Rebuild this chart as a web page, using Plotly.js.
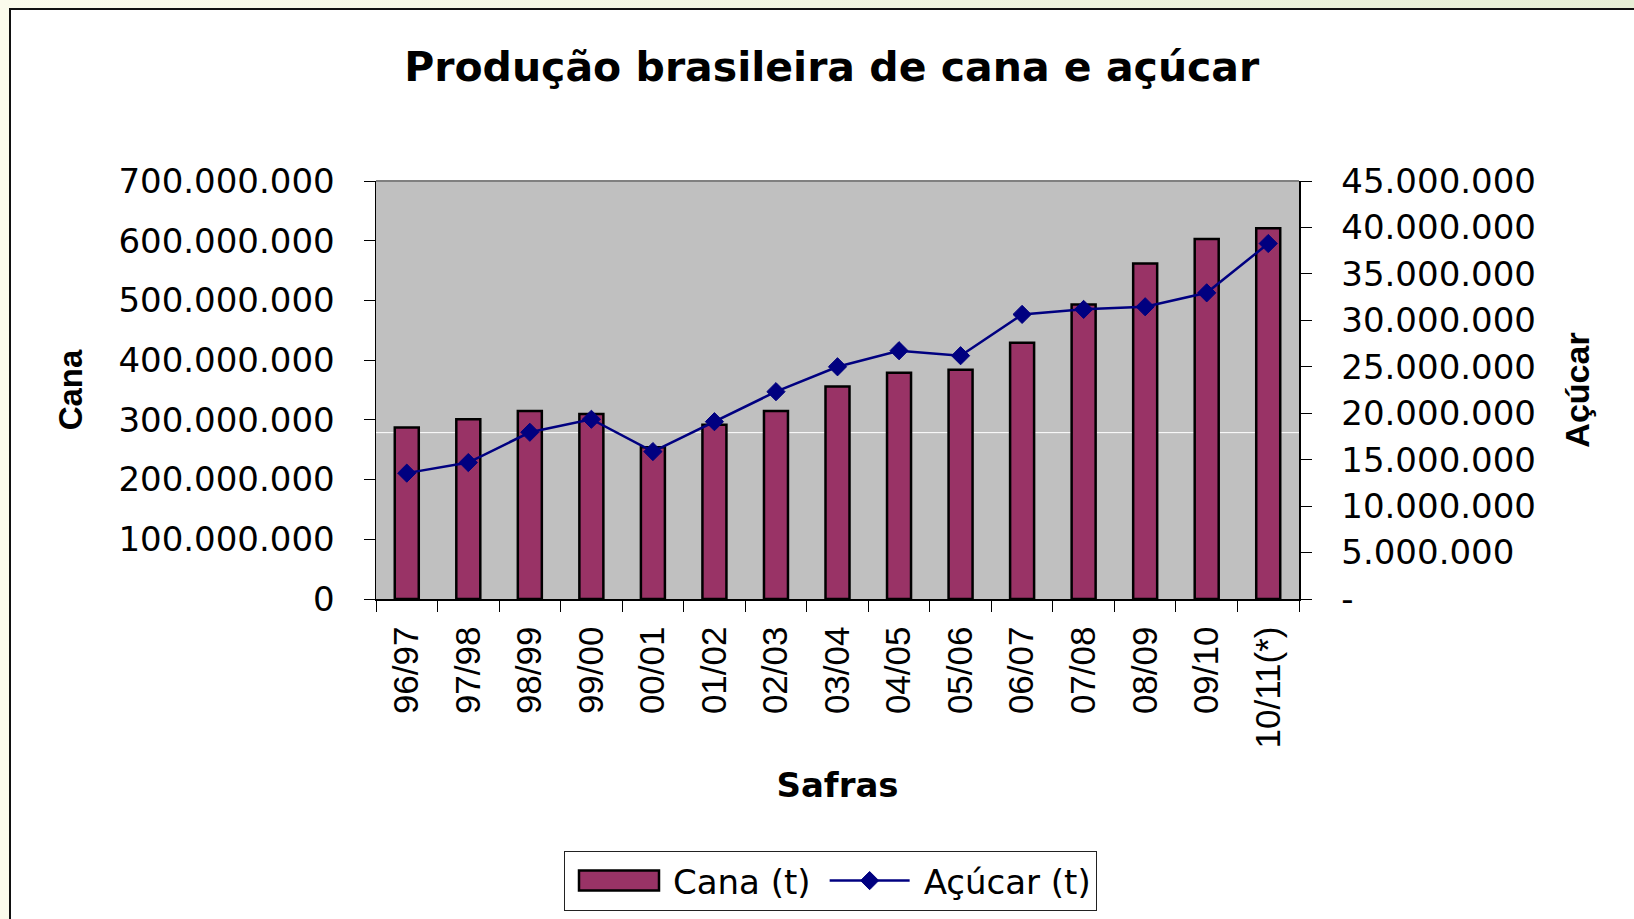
<!DOCTYPE html>
<html>
<head>
<meta charset="utf-8">
<script src="https://cdn.plot.ly/plotly-3.0.1.min.js"></script>
<style>
  html, body { margin:0; padding:0; overflow:hidden; }
  body { width:1634px; height:919px; background: linear-gradient(to right, #fbfbec, #e7efd6); position:relative; }
  #frame { position:absolute; left:9px; top:8px; width:1700px; height:1000px; background:#ffffff;
           border-left:2px solid #111; border-top:2px solid #111; }
  #chart { position:absolute; left:0; top:0; width:1634px; height:919px; }
</style>
</head>
<body>
<div id="frame"></div>
<div id="chart"></div>
<script>
// ---- data ----
const safras = ['96/97','97/98','98/99','99/00','00/01','01/02','02/03','03/04','04/05','05/06','06/07','07/08','08/09','09/10','10/11(*)'];
const cana = [287e6, 301e6, 315e6, 310e6, 254e6, 292e6, 315e6, 356e6, 379e6, 384e6, 429e6, 493e6, 562e6, 603e6, 621e6];
const acucar = [13.55e6, 14.69e6, 17.95e6, 19.35e6, 15.87e6, 19.09e6, 22.32e6, 25.0e6, 26.73e6, 26.19e6, 30.64e6, 31.18e6, 31.46e6, 32.96e6, 38.27e6];
const acucarTickVals = [0, 5e6, 10e6, 15e6, 20e6, 25e6, 30e6, 35e6, 40e6, 45e6];
const acucarTickText = ['-', '5.000.000', '10.000.000', '15.000.000', '20.000.000', '25.000.000', '30.000.000', '35.000.000', '40.000.000', '45.000.000'];

const WIDE = 'DejaVu Sans, Liberation Sans, Arial, sans-serif';
const ARIAL = 'Liberation Sans, Arial, sans-serif';

const data = [
  {
    type: 'bar', name: 'Cana (t)', x: safras, y: cana, xaxis: 'x', yaxis: 'y',
    marker: { color: '#993366', line: { color: '#000000', width: 2.5 } }
  },
  {
    type: 'scatter', mode: 'lines+markers', name: 'Açúcar (t)', x: safras, y: acucar, xaxis: 'x', yaxis: 'y2',
    line: { color: '#000080', width: 2.5 },
    marker: { symbol: 'diamond', size: 14, color: '#000080', line: { color: '#000080', width: 1 } }
  }
];

const layout = {
  width: 1634, height: 919,
  margin: { l: 376, r: 335, t: 181, b: 320, pad: 0 },
  paper_bgcolor: 'rgba(0,0,0,0)',
  plot_bgcolor: '#c0c0c0',
  separators: ',.',
  bargap: 0.61,
  showlegend: true,
  title: {
    text: '<b>Produção brasileira de cana e açúcar</b>',
    font: { family: WIDE, size: 41, color: '#000' },
    xref: 'container', x: 0.509, xanchor: 'center',
    yref: 'container', y: 0.928, yanchor: 'middle'
  },
  xaxis: {
    type: 'category', categoryorder: 'array', categoryarray: safras,
    range: [-0.5, 14.5],
    showline: true, linecolor: '#000', linewidth: 1.5,
    ticks: 'outside', tickson: 'boundaries', ticklen: 11, tickcolor: '#000', tickwidth: 1,
    tickangle: -90, tickfont: { family: ARIAL, size: 35, color: '#000' },
    ticklabelstandoff: 12,
    showgrid: false, zeroline: false,
    title: { text: '<b>Safras</b>', font: { family: WIDE, size: 34, color: '#000' }, standoff: 26 }
  },
  xaxis2: {
    overlaying: 'x', anchor: 'y', side: 'bottom', range: [-0.5, 14.5],
    tickmode: 'linear', tick0: -0.5, dtick: 1,
    ticks: 'inside', ticklen: 11, tickcolor: '#000', tickwidth: 1,
    showticklabels: false, showline: false, showgrid: false, zeroline: false
  },
  yaxis: {
    range: [0, 700e6], tickmode: 'linear', tick0: 0, dtick: 100e6, tickformat: ',d',
    showline: true, linecolor: '#000', linewidth: 1.5,
    ticks: 'outside', ticklen: 11, tickcolor: '#000', tickwidth: 1,
    tickfont: { family: WIDE, size: 34, color: '#000' },
    ticklabelstandoff: 22,
    showgrid: false, zeroline: false,
    title: { text: '<b>Cana</b>', font: { family: ARIAL, size: 33, color: '#000' }, standoff: 26 }
  },
  yaxis2: {
    overlaying: 'y', side: 'right', anchor: 'x', range: [0, 45e6],
    tickmode: 'array', tickvals: acucarTickVals, ticktext: acucarTickText,
    showline: true, linecolor: '#000', linewidth: 1.5,
    ticks: 'outside', ticklen: 11, tickcolor: '#000', tickwidth: 1,
    tickfont: { family: WIDE, size: 34, color: '#000' },
    ticklabelstandoff: 23,
    showgrid: false, zeroline: false,
    title: { text: '<b>Açúcar</b>', font: { family: ARIAL, size: 34, color: '#000' }, standoff: 30 }
  },
  yaxis3: {
    overlaying: 'y', side: 'left', anchor: 'x', range: [0, 700e6], tickmode: 'linear', tick0: 0, dtick: 100e6,
    ticks: 'inside', ticklen: 11, tickcolor: '#000', tickwidth: 1,
    showticklabels: false, showline: false, showgrid: false, zeroline: false
  },
  yaxis4: {
    overlaying: 'y', side: 'right', anchor: 'x', range: [0, 45e6], tickmode: 'linear', tick0: 0, dtick: 5e6,
    ticks: 'inside', ticklen: 11, tickcolor: '#000', tickwidth: 1,
    showticklabels: false, showline: false, showgrid: false, zeroline: false
  },
  shapes: [
    { type: 'line', xref: 'paper', yref: 'paper', x0: 0, x1: 1, y0: 0.398, y1: 0.398,
      line: { color: '#ffffff', width: 1 }, layer: 'below' },
    { type: 'line', xref: 'paper', yref: 'paper', x0: 0, x1: 1, y0: 1, y1: 1,
      line: { color: '#808080', width: 2 }, layer: 'above' }
  ],
  legend: {
    orientation: 'h',
    xref: 'container', x: 564 / 1634, xanchor: 'left',
    yref: 'container', y: 1 - 851 / 919, yanchor: 'top',
    bgcolor: '#ffffff', bordercolor: '#222', borderwidth: 1,
    font: { family: WIDE, size: 34, color: '#000' },
    itemwidth: 98, traceorder: 'normal'
  }
};

Plotly.newPlot('chart', data, layout, { staticPlot: true, displayModeBar: false }).then(function (gd) {
  const items = gd.querySelectorAll('.legend .traces');
  items.forEach(function (item, i) {
    item.querySelectorAll('path').forEach(function (p) {
      const d = p.getAttribute('d') || '';
      const cls = p.getAttribute('class') || '';
      if (i === 0 && /^M6,6H-6V-6H6Z/.test(d)) {
        p.setAttribute('d', 'M40,10H-40V-10H40Z');
      } else if (i === 1 && cls.indexOf('js-line') >= 0) {
        p.setAttribute('d', 'M14,0h80');
      }
    });
  });
});
</script>
</body>
</html>
